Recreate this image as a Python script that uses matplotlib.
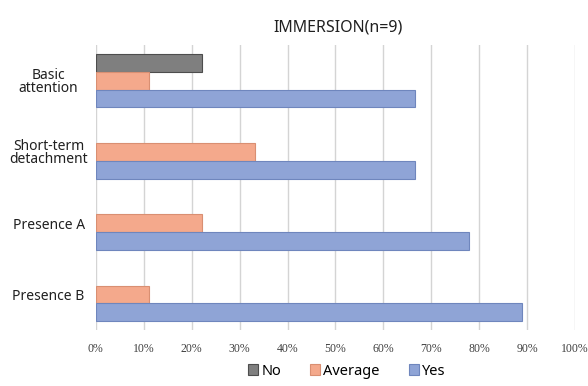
import numpy as np
import matplotlib.pyplot as plt
from matplotlib.ticker import PercentFormatter

# data (share of n=9 respondents)
categories = ['Basic\nattention', 'Short-term\ndetachment', 'Presence A', 'Presence B']
no_vals = [22.2, 0, 0, 0]
avg_vals = [11.1, 33.3, 22.2, 11.1]
yes_vals = [66.7, 66.7, 77.8, 88.9]
series = ['No', 'Average', 'Yes']

colors = ['#7f7f7f', '#f4a98c', '#8fa4d6']
edges = ['#4d4d4d', '#d98f72', '#6f86bd']

fig = plt.figure(figsize=(5.88, 3.86), dpi=100)
ax = fig.add_axes([0.163, 0.145, 0.815, 0.738])

y = np.arange(len(categories))
h = 0.25
for i, (vals, name) in enumerate(zip([no_vals, avg_vals, yes_vals], series)):
    bars = ax.barh(y + (i - 1) * h, vals, height=h, color=colors[i], edgecolor=edges[i],
                   linewidth=0.8, label=name, zorder=3)
    for b, v in zip(bars, vals):
        if v == 0:
            b.set_linewidth(0)

ax.set_ylim(len(categories) - 0.5, -0.5)
ax.set_xlim(0, 100)
ax.set_xticks(np.arange(0, 101, 10))
ax.xaxis.set_major_formatter(PercentFormatter(decimals=0))
ax.set_yticks(y)
ax.set_yticklabels(categories, fontsize=10, family='Noto Sans', linespacing=0.8,
                   ha='center', color='#202020')
for lbl in ax.get_xticklabels():
    lbl.set_family('Liberation Serif')
    lbl.set_fontsize(8.5)
    lbl.set_color('#404040')

ax.tick_params(axis='x', length=0, pad=9)
ax.tick_params(axis='y', length=0, pad=34)
ax.grid(axis='x', color='#d4d4d4', linewidth=1, zorder=0)
for s in ax.spines.values():
    s.set_visible(False)

ax.set_title('IMMERSION(n=9)', fontsize=11.5, family='Noto Sans', pad=10, x=0.505,
             color='#202020')

fig.legend(loc='lower center', bbox_to_anchor=(0.59, -0.015), ncol=3, frameon=False,
           prop={'family': 'Noto Sans', 'size': 10.5}, handlelength=0.7,
           handleheight=0.7, handletextpad=0.2, columnspacing=2.0)

fig.savefig('out.png', dpi=100)
